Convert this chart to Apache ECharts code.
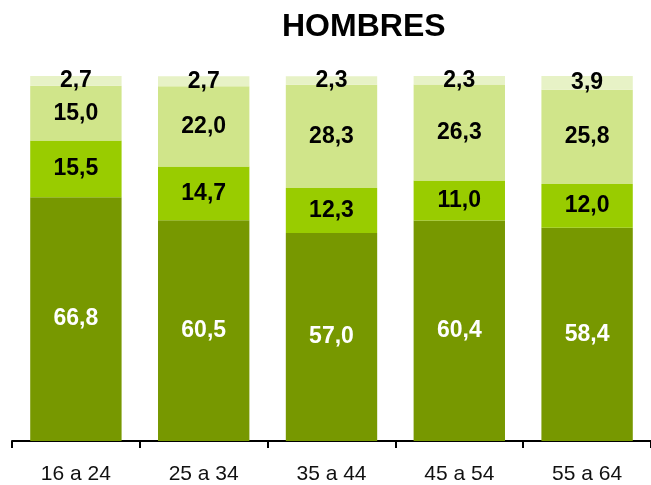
<!DOCTYPE html>
<html>
<head>
<meta charset="utf-8">
<script src="https://cdn.jsdelivr.net/npm/echarts@6/dist/echarts.min.js"></script>
<style>
  html, body { margin: 0; padding: 0; background: #fff; }
  #chart { width: 651px; height: 485px; }
</style>
</head>
<body>
<div id="chart"></div>
<script>
  var categories = ['16 a 24', '25 a 34', '35 a 44', '45 a 54', '55 a 64'];
  // de abajo hacia arriba
  var serie1 = [66.8, 60.5, 57.0, 60.4, 58.4];
  var serie2 = [15.5, 14.7, 12.3, 11.0, 12.0];
  var serie3 = [15.0, 22.0, 28.3, 26.3, 25.8];
  var serie4 = [2.7, 2.7, 2.3, 2.3, 3.9];

  var colors = ['#779800', '#99cc00', '#d0e58a', '#e7f2c6'];
  var font = '"Liberation Sans", Arial, sans-serif';

  function fmt (p) {
    return p.value.toFixed(1).replace('.', ',');
  }

  function makeSeries (data, i) {
    return {
      type: 'bar',
      stack: 'total',
      data: data,
      barWidth: '71.5%',
      itemStyle: { color: colors[i] },
      label: {
        show: true,
        position: 'inside',
        formatter: fmt,
        color: i === 0 ? '#ffffff' : '#000000',
        fontFamily: font,
        fontWeight: 'bold',
        fontSize: 23
      }
    };
  }

  var chart = echarts.init(document.getElementById('chart'));
  chart.setOption({
    animation: false,
    title: {
      text: 'HOMBRES',
      left: 277,
      top: 6,
      textStyle: { fontFamily: font, fontWeight: 'bold', fontSize: 32, color: '#000' }
    },
    grid: { left: 12, right: -4, top: 76, bottom: 42 },
    xAxis: {
      type: 'category',
      data: categories,
      axisLine: { lineStyle: { color: '#000', width: 2 } },
      axisTick: { show: true, length: 7, lineStyle: { color: '#000', width: 2 } },
      axisLabel: { fontFamily: font, fontSize: 21, color: '#111', margin: 23 }
    },
    yAxis: {
      type: 'value',
      min: 0,
      max: 100,
      show: false
    },
    series: [
      makeSeries(serie1, 0),
      makeSeries(serie2, 1),
      makeSeries(serie3, 2),
      makeSeries(serie4, 3)
    ]
  });
</script>
</body>
</html>
